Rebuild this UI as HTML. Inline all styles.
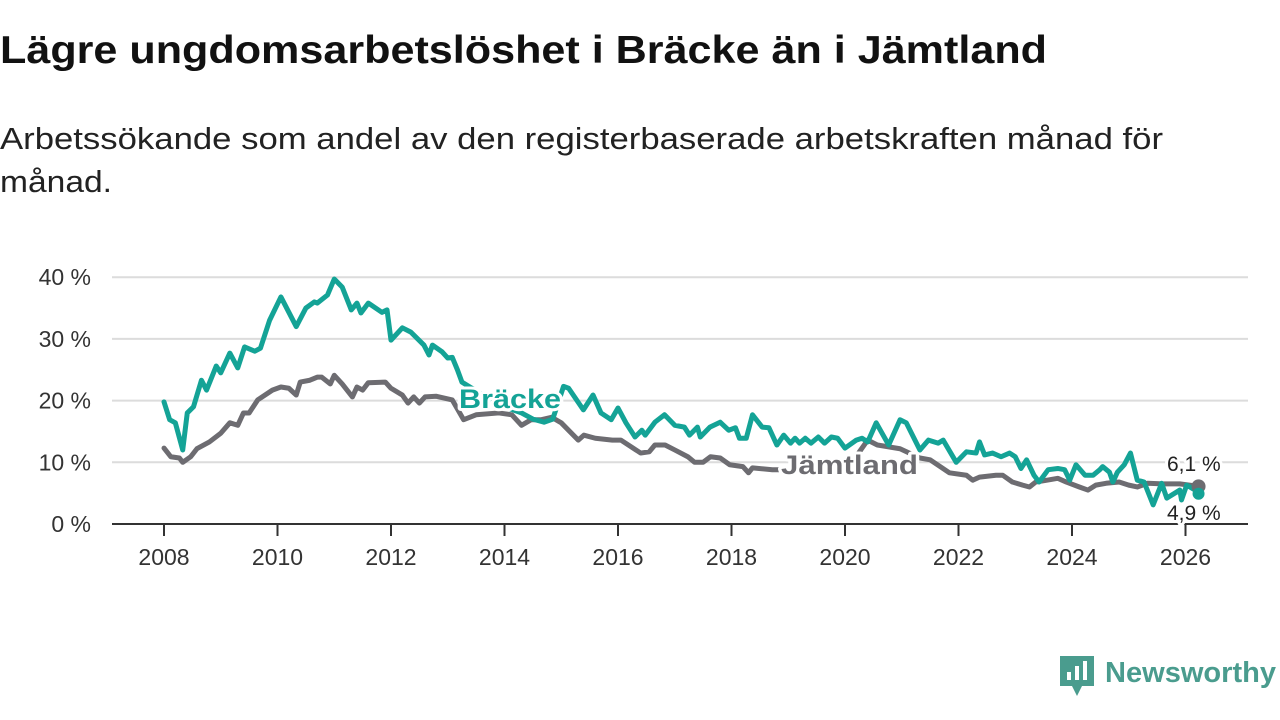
<!DOCTYPE html>
<html><head><meta charset="utf-8"><style>
body{margin:0;background:#fff;width:1280px;height:720px;overflow:hidden;font-family:"Liberation Sans","DejaVu Sans",sans-serif;}
svg{position:absolute;left:0;top:0;}
</style></head><body>
<svg id="chart" width="1280" height="720">
<text x="0" y="63" font-size="39" font-weight="bold" fill="#111" textLength="1047" lengthAdjust="spacingAndGlyphs">Lägre ungdomsarbetslöshet i Bräcke än i Jämtland</text>
<text x="0" y="149" font-size="31" fill="#222" textLength="1163" lengthAdjust="spacingAndGlyphs">Arbetssökande som andel av den registerbaserade arbetskraften månad för</text>
<text x="0" y="192" font-size="31" fill="#222" textLength="112" lengthAdjust="spacingAndGlyphs">månad.</text>
</svg>
<script>
const yTicks=[0,10,20,30,40];
const yTickLabels=["0 %","10 %","20 %","30 %","40 %"];
const xTicks=[2008,2010,2012,2014,2016,2018,2020,2022,2024,2026];
const brackeT=[2008.0,2008.1,2008.2,2008.33,2008.41,2008.52,2008.66,2008.75,2008.92,2009.0,2009.16,2009.3,2009.42,2009.6,2009.7,2009.86,2010.06,2010.33,2010.5,2010.65,2010.7,2010.88,2011.0,2011.14,2011.3,2011.4,2011.47,2011.6,2011.84,2011.93,2012.0,2012.2,2012.35,2012.58,2012.67,2012.73,2012.9,2013.0,2013.08,2013.17,2013.25,2013.6,2014.0,2014.3,2014.5,2014.7,2014.85,2015.04,2015.13,2015.39,2015.56,2015.7,2015.88,2016.0,2016.14,2016.3,2016.42,2016.48,2016.65,2016.82,2017.0,2017.17,2017.26,2017.4,2017.45,2017.62,2017.8,2017.95,2018.07,2018.14,2018.26,2018.37,2018.54,2018.66,2018.8,2018.92,2019.04,2019.12,2019.2,2019.3,2019.4,2019.53,2019.64,2019.76,2019.87,2020.0,2020.2,2020.3,2020.4,2020.55,2020.77,2020.97,2021.08,2021.32,2021.47,2021.64,2021.73,2021.96,2022.14,2022.31,2022.37,2022.46,2022.6,2022.75,2022.9,2023.0,2023.1,2023.2,2023.33,2023.42,2023.58,2023.75,2023.87,2023.96,2024.07,2024.23,2024.37,2024.49,2024.54,2024.66,2024.72,2024.8,2024.92,2025.03,2025.15,2025.27,2025.43,2025.58,2025.67,2025.9,2025.93,2026.02,2026.17,2026.23];
const brackeV=[19.8,16.9,16.4,12,18,19,23.3,21.7,25.6,24.5,27.7,25.3,28.7,28,28.5,33,36.8,32,35,36,35.8,37.1,39.7,38.4,34.7,35.8,34.2,35.8,34.3,34.7,29.8,31.8,31.1,29,27.4,29,27.9,26.9,27,25,23,21,19,18,17,16.5,17,22.3,22,18.5,20.9,18,16.9,18.8,16.4,14.1,15.2,14.4,16.5,17.7,16,15.7,14.4,15.7,14.1,15.7,16.5,15.2,15.6,13.9,13.9,17.7,15.7,15.6,12.8,14.4,13.1,13.9,13.1,13.9,13.1,14.1,13.1,14.1,13.9,12.3,13.6,13.9,13.3,16.4,12.8,16.9,16.4,12,13.6,13.1,13.6,10,11.7,11.5,13.3,11.2,11.5,10.9,11.5,10.9,9,10.4,7.9,6.8,8.8,9,8.8,7.1,9.6,7.9,7.9,8.8,9.3,8.4,6.8,8.4,9.6,11.5,7.1,6.8,3.1,6.6,4.2,5.5,3.9,6.3,5.5,4.9];
const jamtT=[2008.0,2008.12,2008.27,2008.33,2008.47,2008.58,2008.8,2009.0,2009.16,2009.3,2009.4,2009.5,2009.65,2009.91,2010.06,2010.2,2010.33,2010.4,2010.57,2010.7,2010.78,2010.93,2011.0,2011.14,2011.32,2011.4,2011.5,2011.6,2011.9,2012.0,2012.2,2012.3,2012.4,2012.5,2012.6,2012.8,2013.08,2013.28,2013.5,2013.9,2014.13,2014.3,2014.47,2014.65,2014.83,2015.0,2015.3,2015.4,2015.6,2015.9,2016.05,2016.4,2016.55,2016.65,2016.83,2017.0,2017.23,2017.35,2017.5,2017.63,2017.8,2017.97,2018.2,2018.3,2018.37,2018.72,2019.0,2019.5,2020.0,2020.2,2020.4,2020.57,2020.97,2021.32,2021.5,2021.84,2022.14,2022.25,2022.37,2022.66,2022.78,2022.95,2023.13,2023.25,2023.36,2023.56,2023.75,2023.9,2024.13,2024.28,2024.42,2024.6,2024.83,2025.0,2025.15,2025.33,2025.6,2025.9,2026.23];
const jamtV=[12.3,10.9,10.7,10,10.9,12.2,13.3,14.7,16.4,16,18,18,20.1,21.7,22.2,22,20.9,23,23.3,23.8,23.8,22.7,24.1,22.7,20.6,22.2,21.7,22.9,23,22,20.9,19.6,20.6,19.6,20.6,20.7,20.1,16.9,17.7,18,17.7,16,16.9,16.9,17.3,16.4,13.6,14.4,13.9,13.6,13.6,11.5,11.7,12.8,12.8,12,10.9,10,10,10.9,10.7,9.6,9.3,8.3,9.1,8.8,8.8,8.6,8.8,11,13.6,12.8,12.2,10.7,10.4,8.3,7.9,7.1,7.6,7.9,7.9,6.8,6.3,6,6.8,7.1,7.4,6.8,6,5.5,6.3,6.6,6.8,6.3,6,6.6,6.5,6.5,6.1];
const NS="http://www.w3.org/2000/svg",svg=document.getElementById('chart');
const X=t=>164+(t-2008)*56.75, Y=v=>524-v*6.17;
function mk(tag,attrs,parent){const e=document.createElementNS(NS,tag);for(const k in attrs)e.setAttribute(k,attrs[k]);(parent||svg).appendChild(e);return e;}
yTicks.forEach((v,i)=>{
 if(v>0){const g=mk('line',{x1:112,x2:1248,y1:Y(v),y2:Y(v),stroke:'#dcdcdc','stroke-width':2});
 
 }
 const t=mk('text',{x:91,y:Y(v)+8,'text-anchor':'end','font-size':23,fill:'#333'});t.textContent=yTickLabels[i];
 
 
});
xTicks.forEach(yr=>{
 mk('line',{x1:X(yr),x2:X(yr),y1:524,y2:536,stroke:'#333','stroke-width':2});
 const t=mk('text',{x:X(yr),y:565,'text-anchor':'middle','font-size':23,fill:'#333'});t.textContent=yr;
 
 
});
const ax=mk('line',{x1:112,x2:1248,y1:524,y2:524,stroke:'#333','stroke-width':2});


function line(T,V,color,name){
 const p=mk('polyline',{points:T.map((t,i)=>X(t)+','+Y(V[i])).join(' '),fill:'none',stroke:color,'stroke-width':5,'stroke-linejoin':'round','stroke-linecap':'round'});
 
 
}
line(jamtT,jamtV,'#6d6c71','jamtland-line');
line(brackeT,brackeV,'#14a396','bracke-line');
const d1=mk('circle',{cx:X(jamtT[jamtT.length-1]),cy:Y(jamtV[jamtV.length-1]),r:7,fill:'#6d6c71'});


const d2=mk('circle',{cx:X(brackeT[brackeT.length-1]),cy:Y(brackeV[brackeV.length-1]),r:6,fill:'#14a396'});


function lbl(x,y,txt,size,color,bold,name,len){
 const a={x:x,y:y,'font-size':size,fill:color,'font-weight':bold?'bold':'normal',stroke:'#fff','stroke-width':6,'paint-order':'stroke','stroke-linejoin':'round'};
 if(len){a.textLength=len;a.lengthAdjust='spacingAndGlyphs';}
 const t=mk('text',a);
 t.textContent=txt;
 
 
}
lbl(459,408,'Bräcke',27,'#14a396',true,'bracke-label',102);
lbl(781,474,'Jämtland',27,'#6d6c71',true,'jamtland-label',137);
lbl(1167,471,'6,1 %',21,'#222',false,'jamtland-value-label');
lbl(1167,520,'4,9 %',21,'#222',false,'bracke-value-label');
const lg=mk('g',{});


mk('path',{d:'M1060 656 h34 v30 h-12 l-5 10 l-5 -10 h-12 z',fill:'#4a9c8e'},lg);
mk('rect',{x:1067,y:672,width:4,height:8,fill:'#fff'},lg);
mk('rect',{x:1075,y:666,width:4,height:14,fill:'#fff'},lg);
mk('rect',{x:1083,y:661,width:4,height:19,fill:'#fff'},lg);
const lt=mk('text',{x:1105,y:682,'font-size':29,fill:'#4a9c8e','font-weight':'bold',textLength:171,lengthAdjust:'spacingAndGlyphs'},lg);lt.textContent='Newsworthy';
</script>
</body></html>
